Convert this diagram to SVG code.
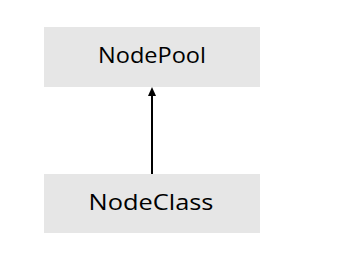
<svg xmlns="http://www.w3.org/2000/svg" width="352" height="262" viewBox="0 0 352 262">
<style>
.box{fill:#e6e6e6;}
.lbl{font-family:"Open Sans","Liberation Sans",sans-serif;font-size:21px;fill:#000;text-anchor:middle;}
.edge{stroke:#000;stroke-width:2;fill:none;}
.head{fill:#000;}
</style>
<rect width="352" height="262" fill="#fff"/>
<g id="connectors">
<line class="edge" x1="152" y1="174" x2="152" y2="95"/>
<polygon class="head" points="152,87 156,96 148,96"/>
</g>
<g id="NodePool">
<rect class="box" x="44" y="27" width="216" height="60"/>
<text class="lbl" x="152" y="63" textLength="108" lengthAdjust="spacingAndGlyphs">NodePool</text>
</g>
<g id="NodeClass">
<rect class="box" x="44" y="174" width="216" height="59"/>
<text class="lbl" x="151" y="210" textLength="125" lengthAdjust="spacingAndGlyphs">NodeClass</text>
</g>
</svg>
